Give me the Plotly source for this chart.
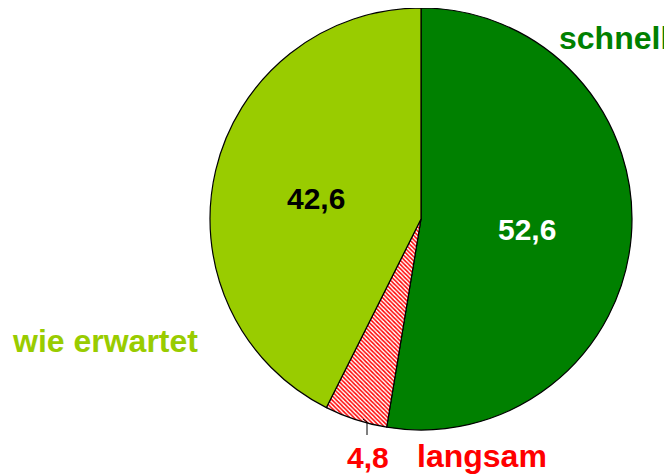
import plotly.graph_objects as go

categories = ["schnell", "langsam", "wie erwartet"]
values = [52.6, 4.8, 42.6]
colors = ["#008000", "#ffffff", "#99cc00"]
label_colors = ["#008000", "#ff0000", "#99cc00"]
value_colors = ["#ffffff", "#ff0000", "#000000"]

W, H = 672, 475
OFF = 8  # page body margin in browser
cx, cy, r = 421 - OFF, 219 - OFF, 211

fig = go.Figure()
fig.add_trace(go.Pie(
    labels=categories,
    values=values,
    sort=False,
    direction="clockwise",
    rotation=0,
    textinfo="none",
    hoverinfo="label+value",
    marker=dict(
        colors=colors,
        line=dict(color="#000000", width=1.2),
        pattern=dict(shape=["", "\\", ""], fgcolor="#ff0000", bgcolor="#ffffff",
                     size=3, solidity=0.5),
    ),
    domain=dict(x=[(cx - r) / W, (cx + r) / W],
                y=[max(0, (H - cy - r) / H), min(1, (H - cy + r) / H)]),
    showlegend=False,
))

def fmt(v):
    return f"{v:.1f}".replace(".", ",")

def px(x, y):
    return (x - OFF) / W, 1 - (y - OFF) / H

font = "Liberation Sans, Arial, sans-serif"
val_pos = [(527, 229), (368, 457), (316, 198)]
cat_pos = [(614, 38), (482, 456), (105, 341)]
ann = []
for i, c in enumerate(categories):
    vx, vy = px(*val_pos[i])
    ann.append(dict(x=vx, y=vy, xref="paper", yref="paper",
                    text=f"<b>{fmt(values[i])}</b>", showarrow=False,
                    font=dict(family=font, size=30, color=value_colors[i]),
                    xanchor="center", yanchor="middle"))
    lx, ly = px(*cat_pos[i])
    ann.append(dict(x=lx, y=ly, xref="paper", yref="paper",
                    text=f"<b>{c}</b>", showarrow=False,
                    font=dict(family=font, size=32, color=label_colors[i]),
                    xanchor="center", yanchor="middle"))

a0 = px(363, 419); a1 = px(367, 422); a2 = px(367, 435)
fig.update_layout(
    width=W, height=H,
    margin=dict(l=0, r=0, t=0, b=0),
    paper_bgcolor="#ffffff",
    plot_bgcolor="#ffffff",
    annotations=ann,
    shapes=[
        dict(type="line", xref="paper", yref="paper",
             x0=a0[0], y0=a0[1], x1=a1[0], y1=a1[1],
             line=dict(color="#000000", width=1)),
        dict(type="line", xref="paper", yref="paper",
             x0=a1[0], y0=a1[1], x1=a2[0], y1=a2[1],
             line=dict(color="#000000", width=1)),
    ],
)

fig.write_html("out.html")
